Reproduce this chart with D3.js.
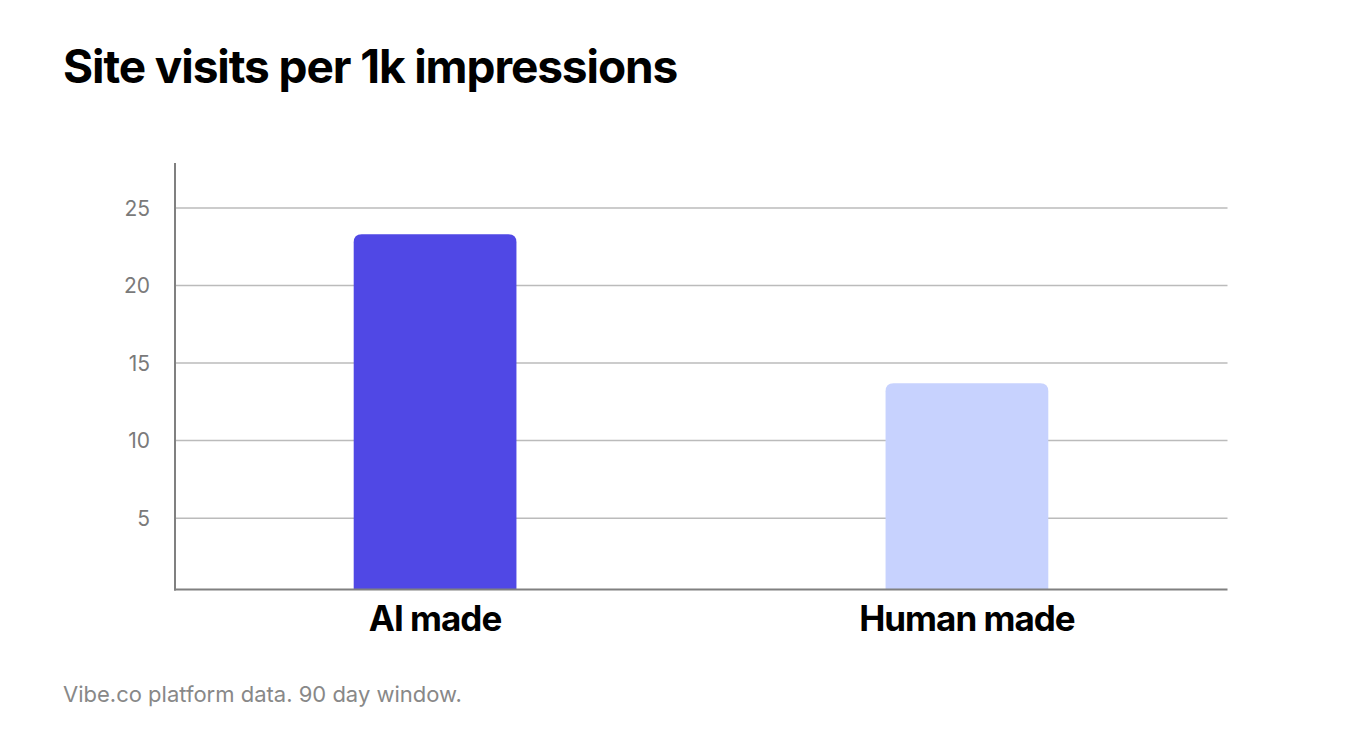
<!DOCTYPE html>
<html>
<head>
<meta charset="utf-8">
<script src="https://cdn.jsdelivr.net/npm/d3@7"></script>
<style>
  html, body { margin: 0; padding: 0; background: #fff; }
  svg { display: block; }
</style>
</head>
<body>
<svg id="chart" width="1362" height="751"></svg>
<script>
const categories = ["AI made", "Human made"];
const values = [23.3, 13.7];
const barColors = ["#5048E5", "#C7D2FE"];
const yTicks = [5, 10, 15, 20, 25];
const title = "Site visits per 1k impressions";
const footnote = "Vibe.co platform data. 90 day window.";

const svg = d3.select("#chart");
const font = "Inter, 'Noto Sans', sans-serif";

const x = d3.scaleBand().domain(categories).range([175, 1227]).paddingInner(0.694).paddingOuter(0.336);
const y = d3.scaleLinear().domain([0.4, 27.9]).range([589.5, 163]);

// title
svg.append("text")
  .attr("x", 63).attr("y", 83)
  .attr("font-family", font).attr("font-weight", 700)
  .attr("font-size", 46).attr("letter-spacing", -1.1)
  .attr("fill", "#000")
  .text(title);

// gridlines
svg.append("g").selectAll("line").data(yTicks).join("line")
  .attr("x1", 175).attr("x2", 1227.5)
  .attr("y1", d => y(d)).attr("y2", d => y(d))
  .attr("stroke", "#bbbbbb").attr("stroke-width", 1.5);

// y tick labels
svg.append("g").selectAll("text").data(yTicks).join("text")
  .attr("x", 150).attr("y", d => y(d) + 2)
  .attr("text-anchor", "end").attr("dominant-baseline", "middle")
  .attr("font-family", font).attr("font-size", 21)
  .attr("fill", "#7a7a7a")
  .text(d => d);

// bars with rounded top corners
const r = 8;
svg.append("g").selectAll("path").data(values).join("path")
  .attr("d", (d, i) => {
    const x0 = x(categories[i]), w = x.bandwidth();
    const y0 = y(d), yb = y.range()[0];
    return `M${x0},${yb}V${y0 + r}Q${x0},${y0} ${x0 + r},${y0}H${x0 + w - r}Q${x0 + w},${y0} ${x0 + w},${y0 + r}V${yb}Z`;
  })
  .attr("fill", (d, i) => barColors[i]);

// axes lines
svg.append("line").attr("x1", 175).attr("x2", 175).attr("y1", 163).attr("y2", 590.5)
  .attr("stroke", "#808080").attr("stroke-width", 2);
svg.append("line").attr("x1", 174).attr("x2", 1227.5).attr("y1", 589.5).attr("y2", 589.5)
  .attr("stroke", "#808080").attr("stroke-width", 2);

// category labels
svg.append("g").selectAll("text").data(categories).join("text")
  .attr("x", d => x(d) + x.bandwidth() / 2).attr("y", 631)
  .attr("text-anchor", "middle")
  .attr("font-family", font).attr("font-weight", 700)
  .attr("font-size", 35).attr("letter-spacing", -1)
  .attr("fill", "#000")
  .text(d => d);

// footnote
svg.append("text")
  .attr("x", 63).attr("y", 702)
  .attr("font-family", font).attr("font-size", 22)
  .attr("fill", "#888888")
  .text(footnote);
</script>
</body>
</html>
